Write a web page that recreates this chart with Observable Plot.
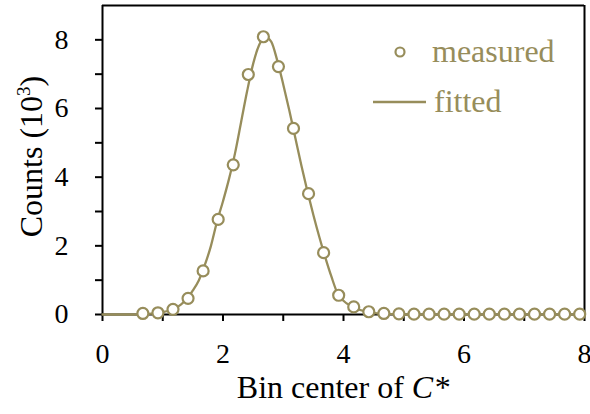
<!DOCTYPE html>
<html>
<head>
<meta charset="utf-8">
<script src="https://cdn.jsdelivr.net/npm/d3@7"></script>
<script src="https://cdn.jsdelivr.net/npm/@observablehq/plot@0.6"></script>
<style>
  html, body { margin: 0; padding: 0; background: white; }
  #chart svg { display: block; }
  #chart svg text { font-family: "Liberation Serif", "Times New Roman", serif !important; }
</style>
</head>
<body>
<div id="chart"></div>
<script>
// Measured bin centers and counts (10^3)
const xMeasured = [0.67, 0.92, 1.17, 1.42, 1.67, 1.92, 2.17, 2.42, 2.67, 2.92,
                   3.17, 3.42, 3.67, 3.92, 4.17, 4.42, 4.67, 4.92, 5.17, 5.42,
                   5.67, 5.92, 6.17, 6.42, 6.67, 6.92, 7.17, 7.42, 7.67, 7.92];
const yMeasured = [0.03, 0.05, 0.15, 0.47, 1.27, 2.77, 4.36, 6.99, 8.09, 7.22,
                   5.42, 3.52, 1.80, 0.56, 0.22, 0.08, 0.03, 0.02, 0.01, 0.01,
                   0.01, 0.01, 0.01, 0.01, 0.01, 0.01, 0.01, 0.01, 0.01, 0.01];
// Fitted curve
const xFitted = [0, 0.5, 0.7, 0.9, 1.0, 1.1, 1.2, 1.3, 1.4, 1.5, 1.6, 1.7, 1.8, 1.9,
                 2.0, 2.1, 2.2, 2.3, 2.4, 2.5, 2.6, 2.7, 2.8, 2.9, 3.0, 3.1, 3.2,
                 3.3, 3.4, 3.5, 3.6, 3.7, 3.8, 3.9, 4.0, 4.1, 4.2, 4.4, 4.6, 4.8, 5.0, 8.0];
const yFitted = [0, 0, 0.01, 0.04, 0.07, 0.11, 0.18, 0.29, 0.45, 0.7, 1.0, 1.45, 2.0, 2.7,
                 3.3, 3.95, 4.7, 5.6, 6.5, 7.3, 7.85, 8.08, 7.95, 7.4, 6.7, 5.95, 5.15,
                 4.35, 3.6, 2.9, 2.25, 1.65, 1.1, 0.62, 0.4, 0.27, 0.18, 0.07, 0.03, 0.01, 0, 0];
const xTicks = [0, 2, 4, 6, 8];
const xMinor = [1, 3, 5, 7];
const yTicks = [0, 2, 4, 6, 8];
const yMinor = [1, 3, 5, 7];
const seriesNames = ["measured", "fitted"];
const xLabel = ["Bin center of ", "C*"];
const yLabel = ["Counts (10", "3", ")"];

const olive = "#978d5b";
const measured = xMeasured.map((x, i) => ({x, y: yMeasured[i]}));
const fitted = xFitted.map((x, i) => ({x, y: yFitted[i]}));

const W = 590, H = 414, mL = 102, mR = 6, mT = 5, mB = 100;
const font = "'Liberation Serif', 'Times New Roman', serif";

const chart = Plot.plot({
  width: W, height: H,
  marginLeft: mL, marginRight: mR, marginTop: mT, marginBottom: mB,
  style: {fontFamily: font, fontSize: "28px", color: "black", background: "white"},
  x: {domain: [0, 8]},
  y: {domain: [0, 9]},
  marks: [
    Plot.axisX({ticks: xTicks, tickSize: 7, tickPadding: 22, fontSize: 28, fontVariant: "normal", label: null, strokeWidth: 2}),
    Plot.axisX({ticks: xMinor, tickSize: 7, tickFormat: () => "", label: null, strokeWidth: 2}),
    Plot.axisY({ticks: yTicks, tickSize: 7, tickPadding: 27, fontSize: 28, fontVariant: "normal", label: null, strokeWidth: 2}),
    Plot.axisY({ticks: yMinor, tickSize: 7, tickFormat: () => "", label: null, strokeWidth: 2}),
    Plot.ruleX([0], {stroke: "black", strokeWidth: 2}),
    Plot.ruleY([0], {stroke: "black", strokeWidth: 2}),
    Plot.ruleX([8], {stroke: "black", strokeWidth: 2}),
    Plot.ruleY([9], {stroke: "black", strokeWidth: 2}),
    Plot.line(fitted, {x: "x", y: "y", stroke: olive, strokeWidth: 2.3, curve: "monotone-x"}),
    Plot.dot(measured, {x: "x", y: "y", r: 5.5, stroke: olive, strokeWidth: 2.2, fill: "white"})
  ]
});

document.getElementById("chart").appendChild(chart);
const svg = d3.select(chart);

// x axis title with italic C*
const xt = svg.append("text")
  .attr("x", (mL + W - mR) / 2).attr("y", 398)
  .attr("text-anchor", "middle").attr("font-size", 32).attr("fill", "black");
xt.append("tspan").text(xLabel[0]);
xt.append("tspan").attr("font-style", "italic").text(xLabel[1]);

// y axis title with superscript
const yt = svg.append("text")
  .attr("transform", `translate(42,${(mT + H - mB) / 2 - 3}) rotate(-90)`)
  .attr("text-anchor", "middle").attr("font-size", 32).attr("fill", "black");
yt.append("tspan").text(yLabel[0]);
yt.append("tspan").attr("font-size", 19).attr("dy", -12).text(yLabel[1]);
yt.append("tspan").attr("dy", 12).text(yLabel[2]);

// legend
const lg = svg.append("g").attr("font-size", 32).attr("fill", olive)
  .attr("text-anchor", "start");
lg.append("circle").attr("cx", 400).attr("cy", 52).attr("r", 4.5)
  .attr("fill", "white").attr("stroke", olive).attr("stroke-width", 2.2);
lg.append("text").attr("x", 432).attr("y", 62).attr("text-anchor", "start").text(seriesNames[0]);
lg.append("line").attr("x1", 373).attr("x2", 426).attr("y1", 102).attr("y2", 102)
  .attr("stroke", olive).attr("stroke-width", 2.3);
lg.append("text").attr("x", 434).attr("y", 112).attr("text-anchor", "start").text(seriesNames[1]);
</script>
</body>
</html>
